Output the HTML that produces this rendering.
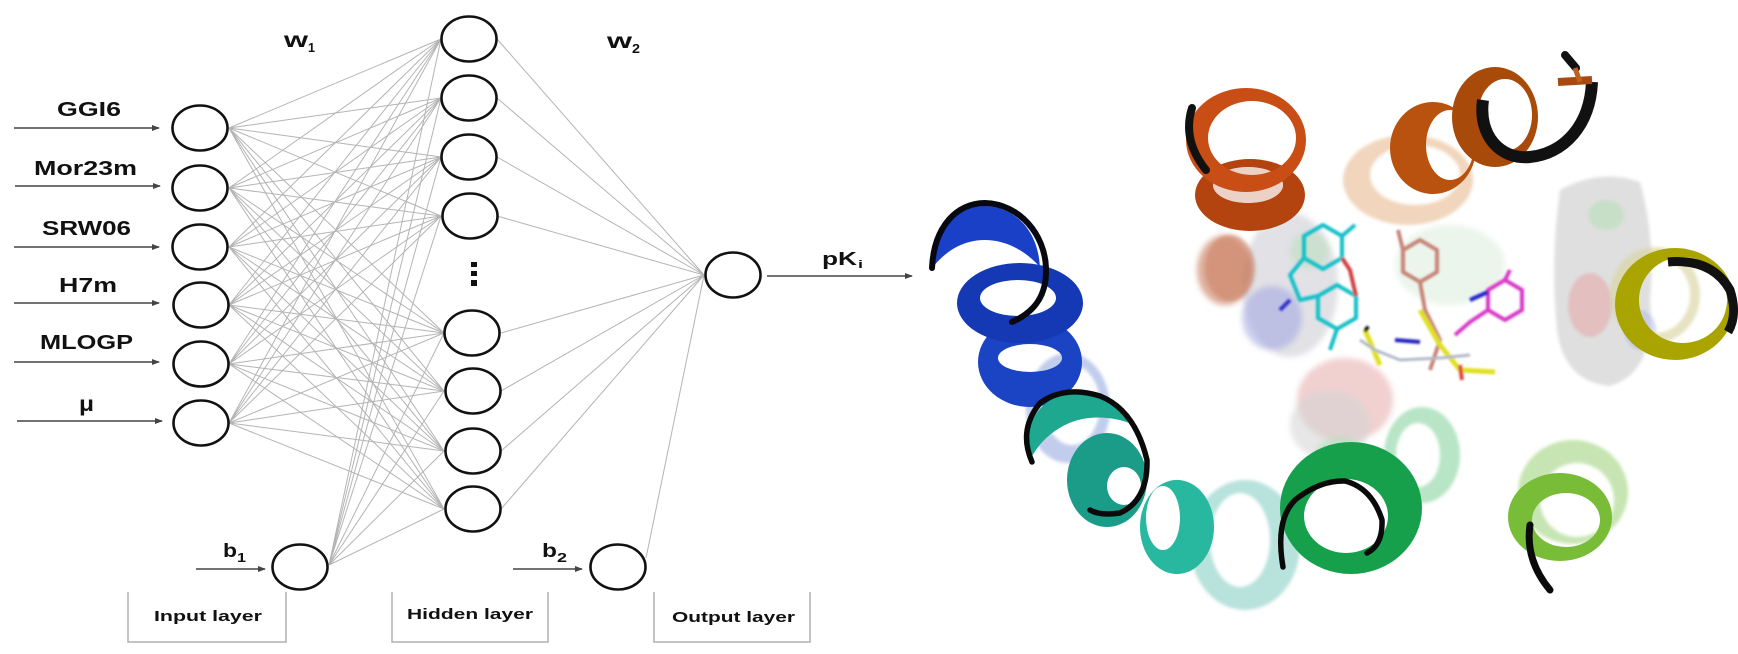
<!DOCTYPE html>
<html><head><meta charset="utf-8"><style>
html,body{margin:0;padding:0;background:#fff;}
svg{display:block;}
text{font-family:"Liberation Sans",Arial,sans-serif;font-weight:bold;fill:#111;}
</style></head><body>
<svg width="1738" height="654" viewBox="0 0 1738 654" xmlns="http://www.w3.org/2000/svg">
<defs>
<marker id="ah" markerWidth="8" markerHeight="6" refX="7" refY="3" orient="auto" markerUnits="userSpaceOnUse"><path d="M0,0L8,3L0,6z" fill="#444"/></marker>
<filter id="bl" x="-20%" y="-20%" width="140%" height="140%"><feGaussianBlur stdDeviation="3"/></filter>
<filter id="bls" x="-20%" y="-20%" width="140%" height="140%"><feGaussianBlur stdDeviation="1.5"/></filter>
<filter id="bl2" x="-20%" y="-20%" width="140%" height="140%"><feGaussianBlur stdDeviation="1"/></filter>
</defs>

<!-- connections input->hidden -->
<g stroke="#b4b4b4" stroke-width="1" fill="none">
<path d="M229 128L441 39M229 128L441 98M229 128L441 157M229 128L441 216M229 128L444 333M229 128L444 391M229 128L444 451M229 128L444 509"/>
<path d="M229 188L441 39M229 188L441 98M229 188L441 157M229 188L441 216M229 188L444 333M229 188L444 391M229 188L444 451M229 188L444 509"/>
<path d="M229 247L441 39M229 247L441 98M229 247L441 157M229 247L441 216M229 247L444 333M229 247L444 391M229 247L444 451M229 247L444 509"/>
<path d="M229 305L441 39M229 305L441 98M229 305L441 157M229 305L441 216M229 305L444 333M229 305L444 391M229 305L444 451M229 305L444 509"/>
<path d="M229 364L441 39M229 364L441 98M229 364L441 157M229 364L441 216M229 364L444 333M229 364L444 391M229 364L444 451M229 364L444 509"/>
<path d="M229 423L441 39M229 423L441 98M229 423L441 157M229 423L441 216M229 423L444 333M229 423L444 391M229 423L444 451M229 423L444 509"/>
<path d="M329 565L441 39M329 565L441 98M329 565L441 157M329 565L441 216M329 565L444 333M329 565L444 391M329 565L444 451M329 565L444 509"/>
<path d="M497 39L704 275M497 98L704 275M497 157L704 275M497 216L704 275M501 333L704 275M501 391L704 275M501 451L704 275M501 509L704 275M646 558L704 275"/>
</g>

<!-- arrows -->
<g stroke="#444" stroke-width="1.6" fill="none" marker-end="url(#ah)">
<line x1="14" y1="128" x2="159" y2="128"/>
<line x1="15" y1="186" x2="160" y2="186"/>
<line x1="14" y1="247" x2="159" y2="247"/>
<line x1="14" y1="303" x2="159" y2="303"/>
<line x1="14" y1="362" x2="159" y2="362"/>
<line x1="17" y1="421" x2="162" y2="421"/>
<line x1="196" y1="569" x2="265" y2="569"/>
<line x1="513" y1="569" x2="582" y2="569"/>
<line x1="767" y1="276" x2="912" y2="276"/>
</g>

<!-- nodes -->
<g stroke="#111" stroke-width="2.6" fill="#fff">
<ellipse cx="200" cy="128" rx="27.5" ry="22.5"/>
<ellipse cx="200" cy="188" rx="27.5" ry="22.5"/>
<ellipse cx="200" cy="247" rx="27.5" ry="22.5"/>
<ellipse cx="201" cy="305" rx="27.5" ry="22.5"/>
<ellipse cx="201" cy="364" rx="27.5" ry="22.5"/>
<ellipse cx="201" cy="423" rx="27.5" ry="22.5"/>
<ellipse cx="300" cy="567" rx="27.5" ry="22.5"/>
<ellipse cx="469" cy="39" rx="27.5" ry="22.5"/>
<ellipse cx="469" cy="98" rx="27.5" ry="22.5"/>
<ellipse cx="469" cy="157" rx="27.5" ry="22.5"/>
<ellipse cx="470" cy="216" rx="27.5" ry="22.5"/>
<ellipse cx="472" cy="333" rx="27.5" ry="22.5"/>
<ellipse cx="473" cy="391" rx="27.5" ry="22.5"/>
<ellipse cx="473" cy="451" rx="27.5" ry="22.5"/>
<ellipse cx="473" cy="509" rx="27.5" ry="22.5"/>
<ellipse cx="733" cy="275" rx="27.5" ry="22.5"/>
<ellipse cx="618" cy="567" rx="27.5" ry="22.5"/>
</g>
<g fill="#111">
<rect x="471" y="262" width="6" height="5"/>
<rect x="471" y="271" width="6" height="5"/>
<rect x="471" y="280" width="6" height="6"/>
</g>

<!-- layer boxes -->
<g stroke="#b0b0b0" stroke-width="1.5" fill="none">
<path d="M128 592V642H286V592"/>
<path d="M392 592V642H548V592"/>
<path d="M654 592V642H810V592"/>
</g>

<!-- labels -->
<text x="57" y="116" font-size="20" textLength="64" lengthAdjust="spacingAndGlyphs">GGI6</text>
<text x="34" y="175" font-size="20" textLength="103" lengthAdjust="spacingAndGlyphs">Mor23m</text>
<text x="42" y="235" font-size="20" textLength="89" lengthAdjust="spacingAndGlyphs">SRW06</text>
<text x="59" y="292" font-size="20" textLength="58" lengthAdjust="spacingAndGlyphs">H7m</text>
<text x="40" y="349" font-size="20" textLength="93" lengthAdjust="spacingAndGlyphs">MLOGP</text>
<text x="79" y="411" font-size="21" textLength="15" lengthAdjust="spacingAndGlyphs">μ</text>
<text x="284" y="47" font-size="21" textLength="24" lengthAdjust="spacingAndGlyphs">w</text>
<text x="308" y="52" font-size="13" textLength="7" lengthAdjust="spacingAndGlyphs">1</text>
<text x="607" y="48" font-size="21" textLength="25" lengthAdjust="spacingAndGlyphs">w</text>
<text x="632" y="53" font-size="13" textLength="8" lengthAdjust="spacingAndGlyphs">2</text>
<text x="223" y="557" font-size="19" textLength="14" lengthAdjust="spacingAndGlyphs">b</text>
<text x="237" y="562" font-size="13" textLength="9" lengthAdjust="spacingAndGlyphs">1</text>
<text x="542" y="557" font-size="19" textLength="15" lengthAdjust="spacingAndGlyphs">b</text>
<text x="557" y="562" font-size="13" textLength="10" lengthAdjust="spacingAndGlyphs">2</text>
<text x="822" y="265" font-size="18" textLength="35" lengthAdjust="spacingAndGlyphs">pK</text>
<text x="858" y="268" font-size="11" textLength="5" lengthAdjust="spacingAndGlyphs">i</text>
<text x="154" y="621" font-size="15" textLength="108" lengthAdjust="spacingAndGlyphs">Input layer</text>
<text x="407" y="619" font-size="15" textLength="126" lengthAdjust="spacingAndGlyphs">Hidden layer</text>
<text x="672" y="622" font-size="15" textLength="123" lengthAdjust="spacingAndGlyphs">Output layer</text>

<!-- ===== Protein illustration ===== -->
<!-- translucent surfaces -->
<g filter="url(#bl)">
<ellipse cx="1290" cy="285" rx="48" ry="72" fill="#cdcdd6" opacity=".6"/>
<ellipse cx="1272" cy="318" rx="30" ry="32" fill="#9aa0e0" opacity=".5"/>
<ellipse cx="1310" cy="250" rx="20" ry="18" fill="#b8e0b8" opacity=".5"/>
<ellipse cx="1345" cy="400" rx="48" ry="42" fill="#e8b0b0" opacity=".6"/>
<ellipse cx="1330" cy="425" rx="40" ry="35" fill="#d4d4d4" opacity=".55"/>
<ellipse cx="1340" cy="455" rx="25" ry="18" fill="#a8e0b0" opacity=".5"/>
<ellipse cx="1450" cy="265" rx="55" ry="40" fill="#d8ecd8" opacity=".5"/>
<ellipse cx="1225" cy="270" rx="28" ry="35" fill="#c87858" opacity=".6"/>
</g>
<g filter="url(#bls)">
<path d="M1560 190 Q1600 168 1640 182 Q1656 240 1650 300 Q1656 372 1610 386 Q1564 382 1557 330 Q1550 260 1560 190z" fill="#d2d2d2" opacity=".7"/>
<ellipse cx="1590" cy="305" rx="22" ry="32" fill="#e8a0a0" opacity=".5"/>
<ellipse cx="1606" cy="215" rx="18" ry="15" fill="#b0e0b0" opacity=".5"/>
<ellipse cx="1640" cy="330" rx="16" ry="20" fill="#b0b8e8" opacity=".5"/>
</g>

<!-- ghost rings -->
<g filter="url(#bls)">
<path fill-rule="evenodd" fill="#eecfb2" opacity=".85" d="M1343,180 a65,45 0 1,0 130,0 a65,45 0 1,0 -130,0z M1370,175 a45,30 0 1,0 90,0 a45,30 0 1,0 -90,0z"/>
<path fill-rule="evenodd" fill="#8fa4e0" opacity=".55" d="M1026,408 a42,55 0 1,0 84,0 a42,55 0 1,0 -84,0z M1044,405 a28,40 0 1,0 56,0 a28,40 0 1,0 -56,0z"/>
<path fill-rule="evenodd" fill="#a0d8d0" opacity=".75" d="M1190,545 a55,65 0 1,0 110,0 a55,65 0 1,0 -110,0z M1210,540 a30,47 0 1,0 60,0 a30,47 0 1,0 -60,0z"/>
<path fill-rule="evenodd" fill="#88d4a0" opacity=".6" d="M1384,455 a38,48 0 1,0 76,0 a38,48 0 1,0 -76,0z M1396,455 a22,32 0 1,0 44,0 a22,32 0 1,0 -44,0z"/>
<path fill-rule="evenodd" fill="#b4dc98" opacity=".75" d="M1518,492 a55,52 0 1,0 110,0 a55,52 0 1,0 -110,0z M1540,500 a37,37 0 1,0 74,0 a37,37 0 1,0 -74,0z"/>
<path fill-rule="evenodd" fill="#d8d4a0" opacity=".65" d="M1610,295 a45,48 0 1,0 90,0 a45,48 0 1,0 -90,0z M1620,295 a35,38 0 1,0 70,0 a35,38 0 1,0 -70,0z"/>
<ellipse cx="1230" cy="268" rx="25" ry="33" fill="#c87858" opacity=".45"/>
</g>

<!-- orange helix 1 -->
<path fill-rule="evenodd" fill="#b34410" d="M1195,195 a55,36 0 1,0 110,0 a55,36 0 1,0 -110,0z M1213,185 a35,18 0 1,0 70,0 a35,18 0 1,0 -70,0z"/>
<ellipse cx="1248" cy="185" rx="35" ry="18" fill="#ecd2c6"/>
<path fill-rule="evenodd" fill="#c84e16" d="M1186,140 a60,52 0 1,0 120,0 a60,52 0 1,0 -120,0z M1208,138 a44,37 0 1,0 88,0 a44,37 0 1,0 -88,0z"/>
<path d="M1192 108 Q1182 140 1206 170" fill="none" stroke="#111" stroke-width="8" stroke-linecap="round"/>

<!-- orange helix 2 -->
<path fill-rule="evenodd" fill="#b8520e" d="M1390,148 a43,46 0 1,0 86,0 a43,46 0 1,0 -86,0z M1426,145 a24,35 0 1,0 48,0 a24,35 0 1,0 -48,0z"/>
<path fill-rule="evenodd" fill="#a84a0a" d="M1452,117 a43,50 0 1,0 86,0 a43,50 0 1,0 -86,0z M1478,115 a27,36 0 1,0 54,0 a27,36 0 1,0 -54,0z"/>
<path d="M1483 100 C1478 135 1500 160 1530 157 C1565 153 1590 125 1592 82" fill="none" stroke="#111" stroke-width="12"/>
<path d="M1558 82 L1592 80" stroke="#a84a10" stroke-width="8"/>
<path d="M1565 55 L1576 68" stroke="#111" stroke-width="8" stroke-linecap="round"/>
<path d="M1575 68 L1580 82" stroke="#c06020" stroke-width="5"/>

<!-- blue helix -->
<path fill-rule="evenodd" fill="#1a44c4" d="M978,362 a52,45 0 1,0 104,0 a52,45 0 1,0 -104,0z M998,358 a32,14 0 1,0 64,0 a32,14 0 1,0 -64,0z"/>
<path fill-rule="evenodd" fill="#1538b4" d="M957,303 a63,40 0 1,0 126,0 a63,40 0 1,0 -126,0z M980,298 a38,18 0 1,0 76,0 a38,18 0 1,0 -76,0z"/>
<path d="M933 265 C933 225 960 205 985 206 C1015 207 1038 230 1040 267 C1025 250 1005 240 985 240 C962 240 945 252 933 267z" fill="#1a40c8"/>
<path d="M932 268 C934 225 958 203 985 203 C1020 204 1045 235 1046 268 C1047 295 1035 312 1012 322" fill="none" stroke="#080810" stroke-width="6" stroke-linecap="round"/>

<!-- teal helix -->
<path fill-rule="evenodd" fill="#28b8a0" d="M1140,527 a37,47 0 1,0 74,0 a37,47 0 1,0 -74,0z M1146,518 a17,32 0 1,0 34,0 a17,32 0 1,0 -34,0z"/>
<path fill-rule="evenodd" fill="#1a9c88" d="M1067,480 a40,47 0 1,0 80,0 a40,47 0 1,0 -80,0z M1107,486 a17,19 0 1,0 34,0 a17,19 0 1,0 -34,0z"/>
<path d="M1030 460 C1020 420 1045 395 1075 392 C1100 392 1125 405 1135 425 C1110 415 1085 415 1065 425 C1045 435 1035 450 1030 460z" fill="#1ea890"/>
<path d="M1032 462 Q1018 430 1040 403 Q1065 385 1100 396 Q1135 410 1147 460 Q1148 500 1120 513 Q1100 516 1090 510" fill="none" stroke="#0a0a0a" stroke-width="5.5" stroke-linecap="round"/>

<!-- green helix -->
<path fill-rule="evenodd" fill="#17a04c" d="M1280,508 a71,66 0 1,0 142,0 a71,66 0 1,0 -142,0z M1304,516 a42,37 0 1,0 84,0 a42,37 0 1,0 -84,0z"/>
<path d="M1283 567 Q1275 520 1295 500 Q1320 480 1345 481 Q1372 488 1382 520 Q1383 545 1367 553" fill="none" stroke="#0a0a0a" stroke-width="5.5" stroke-linecap="round"/>

<!-- light green helix -->
<path fill-rule="evenodd" fill="#78bc38" d="M1508,517 a52,44 0 1,0 104,0 a52,44 0 1,0 -104,0z M1532,520 a34,27 0 1,0 68,0 a34,27 0 1,0 -68,0z"/>
<path d="M1530 525 Q1525 560 1550 590" fill="none" stroke="#0a0a0a" stroke-width="7" stroke-linecap="round"/>

<!-- yellow helix -->
<path fill-rule="evenodd" fill="#aaa400" d="M1615,304 a60,56 0 1,0 120,0 a60,56 0 1,0 -120,0z M1639,300 a44,43 0 1,0 88,0 a44,43 0 1,0 -88,0z"/>
<path d="M1668 262 Q1712 258 1730 290 Q1738 315 1728 332" fill="none" stroke="#111" stroke-width="9"/>

<!-- ligands -->
<g fill="none" stroke-width="4" stroke-linejoin="round" filter="url(#bl2)">
<polygon points="1323,225 1342,236 1342,258 1323,269 1304,258 1304,236" stroke="#18c0c8"/>
<polygon points="1337,285 1356,296 1356,318 1337,329 1318,318 1318,296" stroke="#18c0c8"/>
<path d="M1304,258 L1290,275 L1300,300 L1318,296 M1337,329 L1330,350 M1342,236 L1355,225" stroke="#18c0c8"/>
<path d="M1342,258 L1350,270 L1356,296" stroke="#d04040"/>
<path d="M1290,300 L1280,310" stroke="#3030d0"/>
<polygon points="1420,240 1437,250 1437,272 1420,282 1403,272 1403,250" stroke="#c88478"/>
<path d="M1420,282 L1425,310 L1440,340 L1430,370 M1403,250 L1398,230" stroke="#c88478"/>
<polygon points="1488,290 1505,280 1522,290 1522,310 1505,320 1488,310" stroke="#d83ac8"/>
<path d="M1488,310 L1470,322 L1455,335 M1505,280 L1510,270" stroke="#d83ac8"/>
<path d="M1470,300 L1488,292" stroke="#2020d0"/>
<path d="M1365,330 L1380,365 M1420,310 L1440,345 L1460,370 L1495,372" stroke="#e0e020" stroke-width="5"/>
<path d="M1395,340 L1420,342" stroke="#2020c0"/>
<path d="M1360,340 L1375,350 L1400,360 L1440,358 L1470,355" stroke="#b0b8c8" stroke-width="3"/>
<path d="M1460,365 L1462,380" stroke="#e04040"/>
<path d="M1365,328 L1368,330" stroke="#111" stroke-width="6"/>
</g>
</svg>
</body></html>
